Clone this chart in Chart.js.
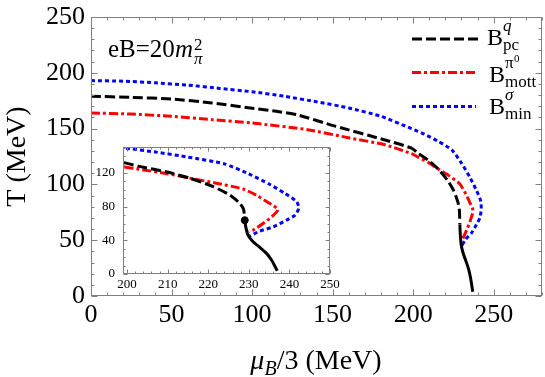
<!DOCTYPE html>
<html><head><meta charset="utf-8">
<script src="https://cdn.jsdelivr.net/npm/chart.js@4.4.0/dist/chart.umd.min.js"></script>
<style>
html,body{margin:0;padding:0;background:#fff;}
#wrap{position:relative;width:545px;height:377px;overflow:hidden;background:#fff;}
canvas{position:absolute;}
.t{position:absolute;line-height:1.2;white-space:nowrap;font-family:"Liberation Serif","Times New Roman",serif;color:#000;}
</style></head><body>
<div id="wrap">
<canvas id="main" width="545" height="377" style="left:0;top:0;width:545px;height:377px"></canvas>
<canvas id="inset" width="250" height="155" style="left:95px;top:140px;width:250px;height:155px"></canvas>
</div>
<script>
// ---- data (mu_B/3 in MeV, T in MeV) ----
const pcX   = [0, 25, 50, 75, 100, 115, 128, 152, 182, 199, 203, 209.6, 215.4, 221.2, 225.3, 227.8, 228.7, 229];
const pcY   = [179, 178, 176.5, 173, 168.3, 165.5, 162.4, 152, 140, 132.5, 128, 121.5, 114, 104, 94, 84, 77, 64];
const foX   = [229, 229.24, 229.8, 231.05, 232.7, 234.35, 235.6, 236.4, 237.0];
const foY   = [64, 56.1, 46.2, 38.3, 31.6, 24.5, 16.6, 9.5, 3.9];
const mottX = [0, 25, 50, 75, 100, 134.5, 160.5, 182, 199, 203, 209.6, 215.4, 222, 228.6, 231.9, 235.2, 237.2, 235.6, 233.5, 231, 230];
const mottY = [164, 163, 161, 158, 155, 149, 141.6, 135.7, 127.5, 124.5, 119.5, 114, 108, 101, 93.6, 83.7, 76.6, 68, 60, 52, 50];
const minX  = [0, 20, 40, 60, 80, 100, 120, 140, 160, 180, 199, 207, 215, 224, 230, 235, 239, 241.8, 242.3, 241.4, 239.3, 236, 232.7, 230.2];
const minY  = [193, 192.5, 191, 189, 186, 183, 179, 174, 168.5, 161, 150, 145, 139, 131, 119, 107, 95.5, 86, 78, 70, 64, 56, 51, 45];
const cepX  = [229];
const cepY  = [64];
const mainXTicks  = [0, 50, 100, 150, 200, 250];
const mainYTicks  = [0, 50, 100, 150, 200, 250];
const insetXTicks = [200, 210, 220, 230, 240, 250];
const insetYTicks = [0, 40, 80, 120];

const FONT = 'Liberation Serif';
const pts = (xs, ys) => xs.map((x, i) => ({x: x, y: ys[i]}));

function seriesSets(w) {
  return [
    {label: 'pc', data: pts(pcX, pcY), borderColor: '#000', borderDash: [10, 4], borderWidth: w},
    {label: 'first', data: pts(foX, foY), borderColor: '#000', borderWidth: w},
    {label: 'mott', data: pts(mottX, mottY), borderColor: '#ff0000', borderDash: [9, 3, 3, 3], borderWidth: w},
    {label: 'min', data: pts(minX, minY), borderColor: '#0000ff', borderDash: [4, 3], borderWidth: w}
  ].map(d => Object.assign(d, {showLine: true, pointRadius: 0, fill: false, tension: 0.2, borderCapStyle: 'butt'}));
}

const frame = {
  id: 'frame',
  beforeDatasetsDraw(chart, args, o) {
    if (!o.bg) return;
    const a = chart.chartArea, ctx = chart.ctx;
    ctx.save(); ctx.fillStyle = '#fff';
    ctx.fillRect(a.left, a.top, a.right - a.left, a.bottom - a.top);
    ctx.restore();
  },
  afterDatasetsDraw(chart, args, o) {
    const {ctx, chartArea: a, scales: {x, y}} = chart;
    ctx.save();
    ctx.strokeStyle = '#808080'; ctx.lineWidth = 1;
    const L = Math.round(a.left) + 0.5, R = Math.round(a.right) - 0.5;
    const T = Math.round(a.top) + 0.5, B = Math.round(a.bottom) - 0.5;
    ctx.strokeRect(L, T, R - L, B - T);
    ctx.beginPath();
    for (let v = o.x0; v <= o.x1 + 1e-9; v += o.xs) {
      const p = Math.round(x.getPixelForValue(v)) + 0.5;
      const len = Math.abs(v / o.xm - Math.round(v / o.xm)) < 1e-6 ? o.maj : o.min;
      ctx.moveTo(p, B); ctx.lineTo(p, B - len);
      ctx.moveTo(p, T); ctx.lineTo(p, T + len);
    }
    for (let v = o.y0; v <= o.y1 + 1e-9; v += o.ys) {
      const p = Math.round(y.getPixelForValue(v)) + 0.5;
      const len = Math.abs(v / o.ym - Math.round(v / o.ym)) < 1e-6 ? o.maj : o.min;
      ctx.moveTo(L, p); ctx.lineTo(L + len, p);
      ctx.moveTo(R, p); ctx.lineTo(R - len, p);
    }
    ctx.stroke();
    ctx.restore();
  }
};

const legendSamples = {
  id: 'legendSamples',
  afterDraw(chart) {
    const ctx = chart.ctx;
    const ds = chart.data.datasets;
    const rows = [[ds[0], 412, 480, 39], [ds[2], 412, 476, 72.5], [ds[3], 412, 476, 106.5]];
    ctx.save();
    rows.forEach(r => {
      ctx.strokeStyle = r[0].borderColor; ctx.lineWidth = 3;
      ctx.setLineDash(r[0].borderDash || []);
      ctx.beginPath(); ctx.moveTo(r[1], r[3]); ctx.lineTo(r[2], r[3]); ctx.stroke();
    });
    ctx.restore();
  }
};

Chart.defaults.font.family = FONT;
Chart.defaults.color = '#000';

// scale padding is controlled by layout padding only
const noPadY = fit => s => { s.width = fit.w; s.paddingTop = 0; s.paddingBottom = 0; };
const noPadX = fit => s => { s.height = fit.h; s.paddingLeft = 0; s.paddingRight = 0; };

const mainPad = {top: 17, right: 3, left: 0, bottom: 0};
const mainFit = {w: 91, h: 81};
const mainChart = new Chart(document.getElementById('main'), {
  type: 'scatter',
  data: {datasets: seriesSets(3)},
  options: {
    responsive: false, animation: false, devicePixelRatio: 1,
    layout: {padding: mainPad},
    plugins: {legend: {display: false}, tooltip: {enabled: false},
      frame: {x0: 0, x1: 280, xs: 10, xm: 50, y0: 0, y1: 250, ys: 10, ym: 50, maj: 6, min: 3}},
    scales: {
      x: {type: 'linear', min: 0, max: 280,
        afterBuildTicks: s => { s.ticks = mainXTicks.map(v => ({value: v})); },
        afterFit: noPadX(mainFit),
        grid: {display: false, drawTicks: false}, border: {display: false},
        ticks: {font: {family: FONT, size: 26}, color: '#000', padding: 4, maxRotation: 0, autoSkip: false}},
      y: {type: 'linear', min: 0, max: 250,
        afterBuildTicks: s => { s.ticks = mainYTicks.map(v => ({value: v})); },
        afterFit: noPadY(mainFit),
        grid: {display: false, drawTicks: false}, border: {display: false},
        ticks: {font: {family: FONT, size: 26}, color: '#000', padding: 6, autoSkip: false},
        title: {display: true, text: 'T (MeV)', font: {family: FONT, size: 28}, color: '#000', padding: {top: 1, bottom: 0}}}
    }
  },
  plugins: [frame, legendSamples]
});

const insetSets = seriesSets(3);
insetSets.unshift({label: 'CEP', data: pts(cepX, cepY), pointRadius: 3.5, pointBackgroundColor: '#000', pointBorderColor: '#000', showLine: false});

const insetPad = {top: 7, right: 15, left: 0, bottom: 0};
const insetFit = {w: 28, h: 21};
const insetChart = new Chart(document.getElementById('inset'), {
  type: 'scatter',
  data: {datasets: insetSets},
  options: {
    responsive: false, animation: false, devicePixelRatio: 1,
    layout: {padding: insetPad},
    plugins: {legend: {display: false}, tooltip: {enabled: false},
      frame: {bg: true, x0: 200, x1: 250, xs: 2, xm: 10, y0: 0, y1: 150, ys: 10, ym: 40, maj: 4, min: 2}},
    scales: {
      x: {type: 'linear', min: 199, max: 250,
        afterBuildTicks: s => { s.ticks = insetXTicks.map(v => ({value: v})); },
        afterFit: noPadX(insetFit),
        grid: {display: false, drawTicks: false}, border: {display: false},
        ticks: {font: {family: FONT, size: 13}, color: '#000', padding: 3, maxRotation: 0, autoSkip: false}},
      y: {type: 'linear', min: 0, max: 151,
        afterBuildTicks: s => { s.ticks = insetYTicks.map(v => ({value: v})); },
        afterFit: noPadY(insetFit),
        grid: {display: false, drawTicks: false}, border: {display: false},
        ticks: {font: {family: FONT, size: 13}, color: '#000', padding: 8, autoSkip: false}}
    }
  },
  plugins: [frame]
});

// make the plot areas land where the reference has them
function fitArea(chart, pad, fit, want) {
  for (let k = 0; k < 4; k++) {
    const a = chart.chartArea;
    const dt = want.top - a.top, dr = a.right - want.right, dl = want.left - a.left, db = a.bottom - want.bottom;
    if (Math.abs(dt) < 0.3 && Math.abs(dr) < 0.3 && Math.abs(dl) < 0.3 && Math.abs(db) < 0.3) break;
    pad.top = Math.max(0, pad.top + dt);
    pad.right = Math.max(0, pad.right + dr);
    fit.w += dl; fit.h += db;
    chart.update();
  }
}
fitArea(mainChart, mainPad, mainFit, {left: 91, top: 17, right: 542, bottom: 296});
fitArea(insetChart, insetPad, insetFit, {left: 28, top: 7, right: 235, bottom: 134});

// ---- formatted text (sub/superscripts) as HTML overlays, placed by baseline ----
const wrap = document.getElementById('wrap');
function put(html, x, base, size, extra) {
  const d = document.createElement('div');
  d.className = 't';
  d.style.left = x + 'px';
  d.style.top = '0px';
  d.style.fontSize = size + 'px';
  if (extra) d.style.cssText += extra;
  d.innerHTML = html;
  const s = document.createElement('span');
  s.style.cssText = 'display:inline-block;width:0;height:0;vertical-align:baseline;';
  d.appendChild(s);
  wrap.appendChild(d);
  d.style.top = (base - s.offsetTop) + 'px';
  return d;
}
// legend labels
let b;
b = put('B', 487, 45, 24); let bx = 487 + b.offsetWidth;
put('<i>q</i>', bx, 31, 17); put('pc', bx, 49.5, 17);
b = put('B', 489, 82, 24); bx = 489 + b.offsetWidth;
put('π', bx, 68, 17); put('0', bx + 9, 62, 11); put('mott', bx, 87, 17);
b = put('B', 489, 114, 24); bx = 489 + b.offsetWidth;
put('<i>σ</i>', bx, 100, 17); put('min', bx, 119, 17);
// annotation
b = put('eB=20<i>m</i>', 108, 57, 25); bx = 108 + b.offsetWidth + 1;
put('2', bx, 50, 17); put('<i>π</i>', bx, 64, 17);
// x axis title
put('<i>μ</i><span style="position:relative;top:6px;font-size:20px"><i>B</i></span>/3 (MeV)', 316, 369, 28, 'transform:translateX(-50%);');
</script>
</body></html>
